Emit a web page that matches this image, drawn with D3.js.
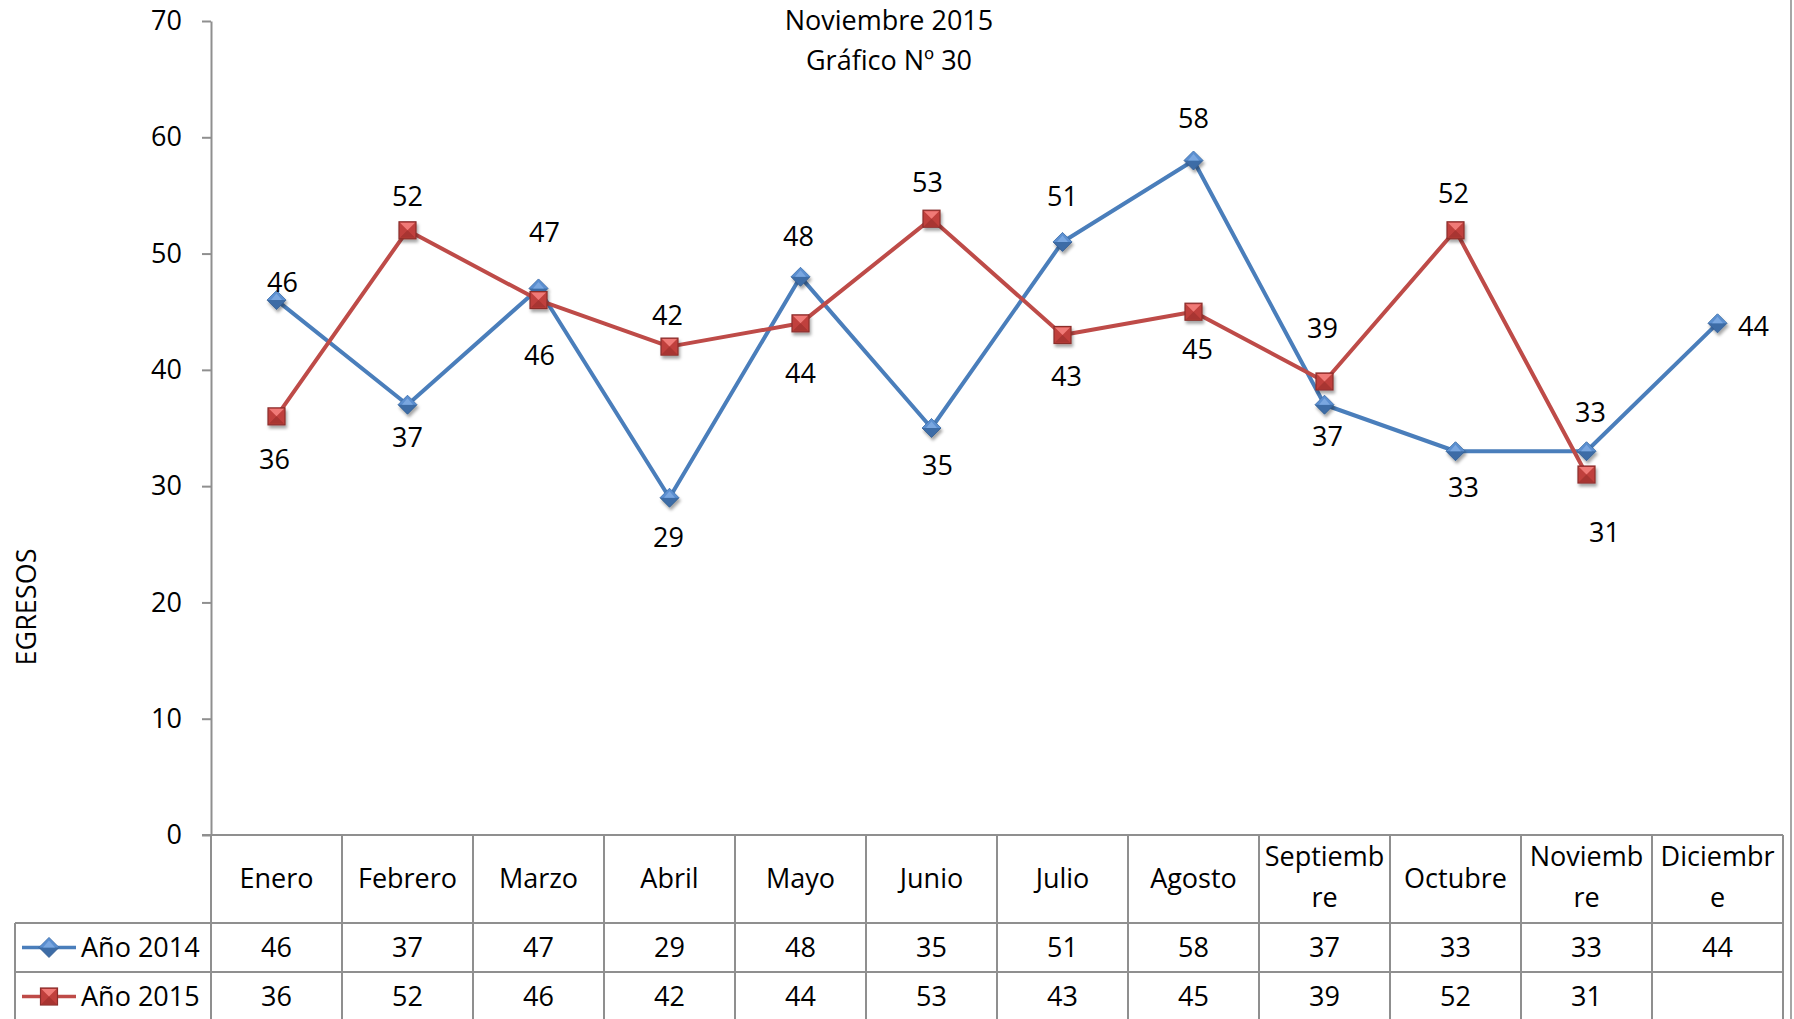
<!DOCTYPE html>
<html>
<head>
<meta charset="utf-8">
<script src="https://cdn.jsdelivr.net/npm/d3@7"></script>
<style>
  html, body { margin: 0; padding: 0; background: #fff; }
  svg { display: block; font-family: "Open Sans", "Noto Sans", sans-serif; }
</style>
</head>
<body>
<div id="chart"></div>
<script>
// data
const months = ['Enero', 'Febrero', 'Marzo', 'Abril', 'Mayo', 'Junio', 'Julio', 'Agosto', 'Septiembre', 'Octubre', 'Noviembre', 'Diciembre'];
const monthLines = [['Enero'], ['Febrero'], ['Marzo'], ['Abril'], ['Mayo'], ['Junio'], ['Julio'], ['Agosto'], ['Septiemb', 're'], ['Octubre'], ['Noviemb', 're'], ['Diciembr', 'e']];
const values2014 = [46, 37, 47, 29, 48, 35, 51, 58, 37, 33, 33, 44];
const values2015 = [36, 52, 46, 42, 44, 53, 43, 45, 39, 52, 31, null];
const yTicks = [0, 10, 20, 30, 40, 50, 60, 70];
const seriesNames = ['Año 2014', 'Año 2015'];
const titleLines = ['Noviembre 2015', 'Gráfico Nº 30'];
const yTitle = 'EGRESOS';

// label placement (dx, dy from the point), as placed in the original
const lab2014 = [[6, -18], [0, 33], [6, -56], [-1, 40], [-2, -40], [6, 38], [0, -45], [0, -42], [3, 32], [8, 36], [4, -39], [36, 3]];
const lab2015 = [[-2, 43], [0, -34], [1, 55], [-2, -31], [0, 50], [-4, -36], [4, 42], [4, 38], [-2, -53], [-2, -37], [18, 58], [0, 0]];

const W = 1794, H = 1019;
const FS = 27;
const GRID = '#8f8f8f';
const BLUE = '#4a7ebb', RED = '#be4b48';

const svg = d3.select('#chart').append('svg').attr('width', W).attr('height', H);
const defs = svg.append('defs');
const sh = defs.append('filter').attr('id', 'shadow').attr('x', '-50%').attr('y', '-50%').attr('width', '200%').attr('height', '200%');
sh.append('feDropShadow').attr('dx', 1.5).attr('dy', 3).attr('stdDeviation', 1.8).attr('flood-color', '#000').attr('flood-opacity', 0.35);

const x = d3.scaleBand().domain(months).range([211, 1783]);
const y = d3.scaleLinear().domain([0, 70]).range([835, 21]);
const cx = m => x(m) + x.bandwidth() / 2;

// right border of chart area
svg.append('line').attr('x1', 1791).attr('x2', 1791).attr('y1', 0).attr('y2', H)
  .attr('stroke', '#a6a6a6').attr('stroke-width', 2);

// title
svg.append('g').selectAll('text').data(titleLines).join('text')
  .attr('x', 889).attr('y', (d, i) => 30 + i * 40)
  .attr('text-anchor', 'middle').attr('font-size', FS).attr('fill', '#000').text(d => d);

// y axis
const yAxis = svg.append('g').attr('transform', 'translate(211,0)')
  .call(d3.axisLeft(y).tickValues(yTicks).tickSize(9).tickSizeOuter(0).tickPadding(20));
yAxis.select('.domain').attr('stroke', GRID).attr('stroke-width', 2);
yAxis.selectAll('.tick line').attr('stroke', GRID).attr('stroke-width', 2);
yAxis.selectAll('.tick text').attr('font-size', FS).attr('font-family', '"Open Sans", sans-serif').attr('fill', '#000');

svg.append('text').attr('transform', 'translate(36,607) rotate(-90)')
  .attr('text-anchor', 'middle').attr('font-size', FS).attr('fill', '#000').text(yTitle);

// data table
const rowTop = [835, 923, 972, 1021];
const tbl = svg.append('g').attr('stroke', GRID).attr('stroke-width', 2).attr('fill', 'none');
tbl.append('line').attr('x1', 202).attr('x2', 1783).attr('y1', rowTop[0]).attr('y2', rowTop[0]);
rowTop.slice(1).forEach(yy => tbl.append('line').attr('x1', 15).attr('x2', 1783).attr('y1', yy).attr('y2', yy));
tbl.append('line').attr('x1', 15).attr('x2', 15).attr('y1', rowTop[1]).attr('y2', rowTop[3]);
tbl.append('line').attr('x1', 211).attr('x2', 211).attr('y1', rowTop[0]).attr('y2', rowTop[3]);
tbl.selectAll('line.col').data(months).join('line').attr('class', 'col')
  .attr('x1', d => x(d) + x.bandwidth()).attr('x2', d => x(d) + x.bandwidth())
  .attr('y1', rowTop[0]).attr('y2', rowTop[3]);

const head = svg.append('g').attr('font-size', FS).attr('text-anchor', 'middle').attr('fill', '#000');
months.forEach((m, i) => {
  const ls = monthLines[i];
  const y0 = ls.length === 1 ? 879 : 857;
  ls.forEach((t, j) => head.append('text').attr('x', cx(m)).attr('y', y0 + j * 41).attr('dy', '0.35em').text(t));
});

// markers
function diamond(g, s) {
  const h = s / 2;
  g.append('path').attr('d', `M0,${-h}L${h},0L0,${h}L${-h},0Z`).attr('fill', '#3d6ca6').attr('stroke', '#2f5a8f').attr('stroke-width', 0.8);
  g.append('path').attr('d', `M0,${-h}L${h},0L${-h},0Z`).attr('fill', '#5b8fd0');
  g.append('path').attr('d', `M0,${-h + 3}L${h - 4},0L${-h + 4},0Z`).attr('fill', '#7aa7e0');
}
function square(g, s) {
  const h = s / 2;
  g.append('rect').attr('x', -h).attr('y', -h).attr('width', s).attr('height', s)
    .attr('fill', '#c0403d').attr('stroke', '#8a2d2b').attr('stroke-width', 1.2);
  g.append('path').attr('d', `M${-h + 1},${-h + 1}L${h - 1},${-h + 1}L0,0Z`).attr('fill', '#f07a77');
  g.append('path').attr('d', `M${-h + 1},${h - 1}L${h - 1},${h - 1}L0,0Z`).attr('fill', '#a83431');
}

const series = [
  { name: seriesNames[0], vals: values2014, color: BLUE, mark: diamond, size: 19, lab: lab2014 },
  { name: seriesNames[1], vals: values2015, color: RED, mark: square, size: 17, lab: lab2015 }
];

const line = d3.line().defined(d => d.v != null).x(d => cx(d.m)).y(d => y(d.v));

// draw 2014 first, 2015 on top
series.forEach(s => {
  const pts = months.map((m, i) => ({ m, v: s.vals[i], i }));
  svg.append('path').datum(pts).attr('d', line).attr('fill', 'none')
    .attr('stroke', s.color).attr('stroke-width', 4).attr('stroke-linejoin', 'round');
});
series.forEach(s => {
  const pts = months.map((m, i) => ({ m, v: s.vals[i], i })).filter(d => d.v != null);
  svg.append('g').selectAll('g').data(pts).join('g')
    .attr('transform', d => `translate(${cx(d.m)},${y(d.v)})`)
    .attr('filter', 'url(#shadow)')
    .each(function () { s.mark(d3.select(this), s.size); });
});
series.forEach(s => {
  const pts = months.map((m, i) => ({ m, v: s.vals[i], i })).filter(d => d.v != null);
  svg.append('g').selectAll('text').data(pts).join('text')
    .attr('x', d => cx(d.m) + s.lab[d.i][0]).attr('y', d => y(d.v) + s.lab[d.i][1])
    .attr('dy', '0.35em').attr('text-anchor', 'middle').attr('font-size', FS).attr('fill', '#000')
    .text(d => d.v);
});

// table rows with legend keys
series.forEach((s, r) => {
  const yc = (rowTop[r + 1] + rowTop[r + 2]) / 2;
  const g = svg.append('g');
  g.append('line').attr('x1', 22).attr('x2', 76).attr('y1', yc).attr('y2', yc).attr('stroke', s.color).attr('stroke-width', 3.5);
  const k = g.append('g').attr('transform', `translate(49,${yc})`);
  s.mark(k, r === 0 ? 20 : 17);
  g.append('text').attr('x', 81).attr('y', yc).attr('dy', '0.35em').attr('font-size', FS).attr('fill', '#000').text(s.name);
  g.selectAll('text.v').data(months).join('text').attr('class', 'v')
    .attr('x', d => cx(d)).attr('y', yc).attr('dy', '0.35em').attr('text-anchor', 'middle')
    .attr('font-size', FS).attr('fill', '#000')
    .text((d, i) => s.vals[i] == null ? '' : s.vals[i]);
});
</script>
</body>
</html>
